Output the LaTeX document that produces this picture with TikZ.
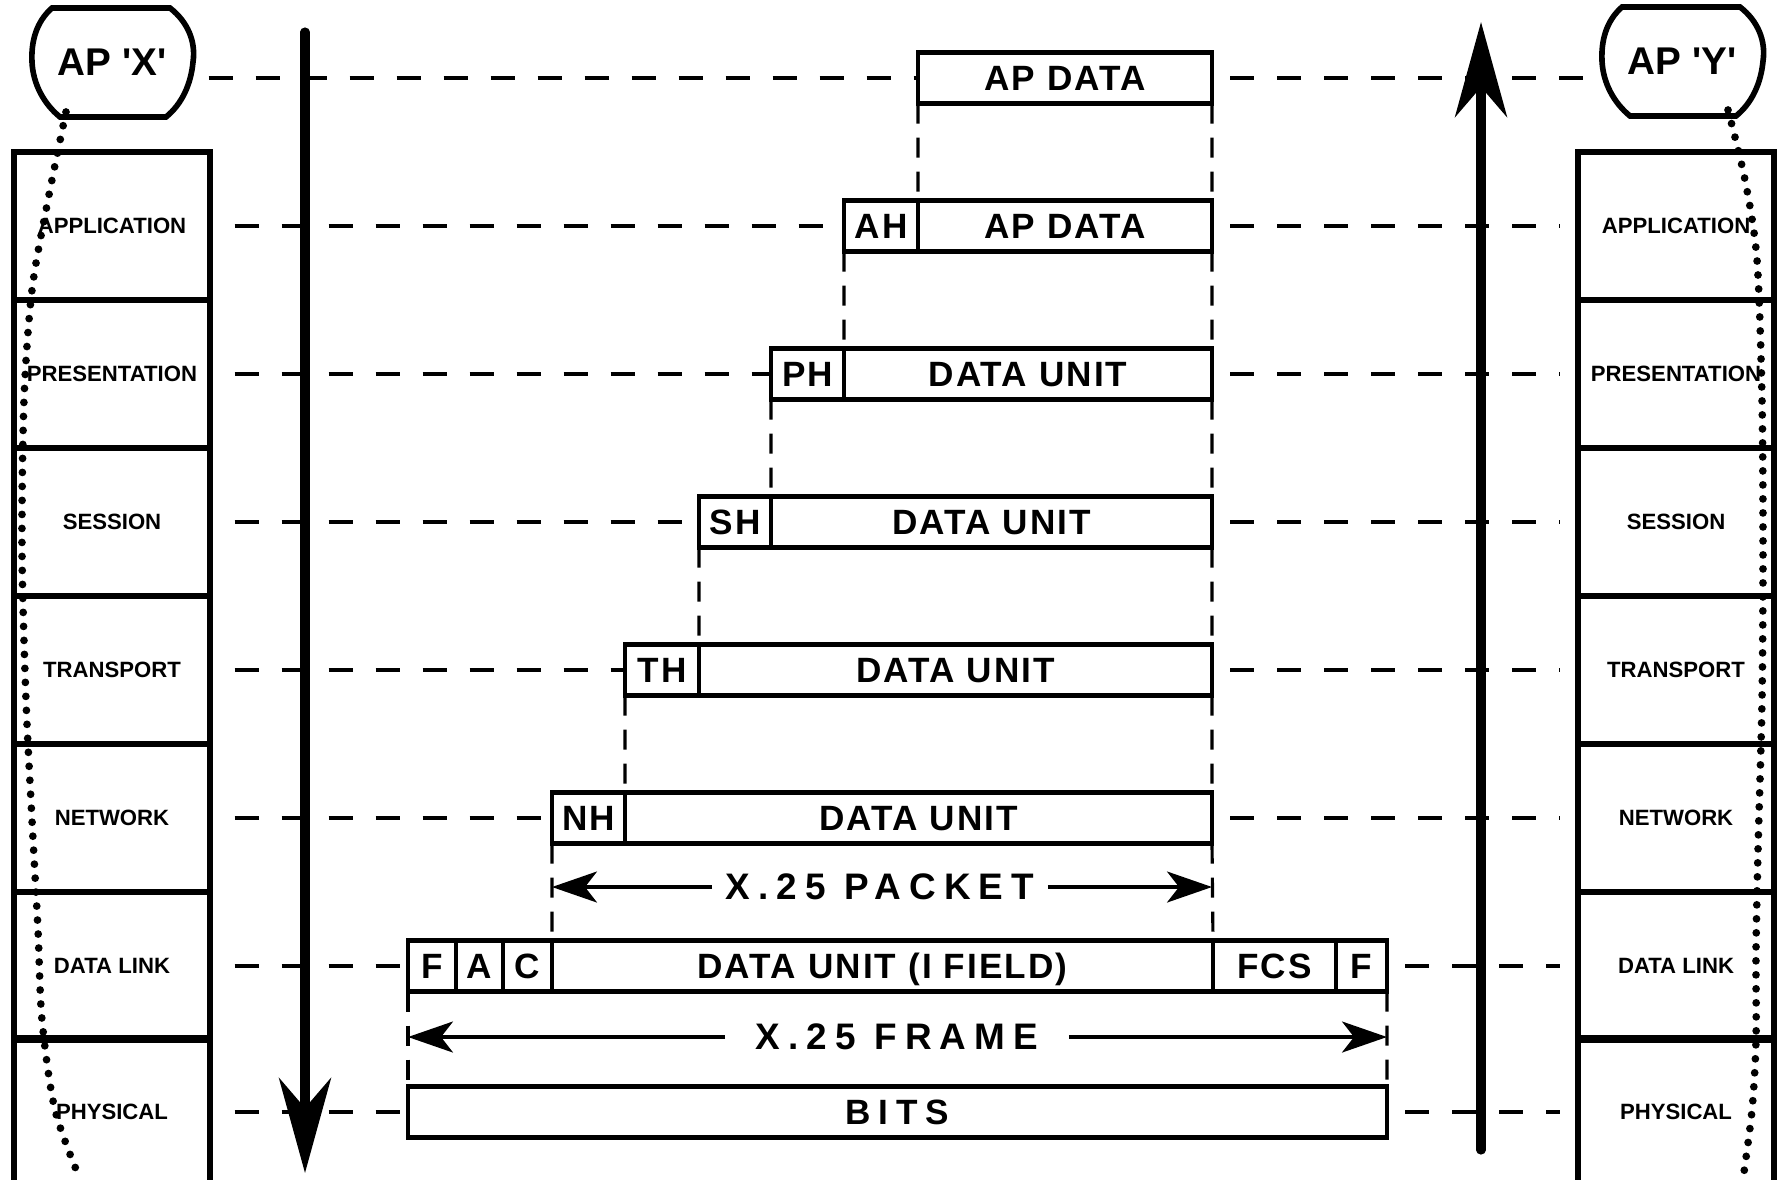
\documentclass[tikz,border=0pt]{standalone}
\usepackage{fontspec}
\setmainfont{Liberation Sans}
\newfontfamily\boxfont[LetterSpace=6]{Liberation Sans}
\newfontfamily\widefont[LetterSpace=22]{Liberation Sans}
\usetikzlibrary{arrows.meta,positioning}

% outline of an application process, around a node centre
\newcommand{\apoutline}[1]{%
  \draw[line width=1.6pt, shift={(#1)}] (-60,-54) -- (58,-54)
    .. controls (76,-40) and (84,-20) .. (81,0)
    .. controls (79,22) and (70,42) .. (54,55) -- (-52,55)
    .. controls (-68,42) and (-79,22) .. (-80,0)
    .. controls (-81,-20) and (-76,-40) .. (-60,-54) -- cycle;}

\begin{document}
\begin{tikzpicture}[x=0.1mm, y=-0.1mm,
    field/.style={draw, line width=1.2pt, minimum height=5.1mm, inner sep=0pt, outer sep=0pt,
      text height=7.2pt, text depth=0pt, font=\boxfont\bfseries\fontsize{10}{12}\selectfont},
    layer/.style={draw, line width=1.5pt, minimum width=19.6mm, minimum height=14.8mm,
      inner sep=0pt, font=\bfseries\fontsize{6.3}{7}\selectfont},
    guide/.style={line width=0.9pt, dash pattern=on 2.4mm off 2.3mm},
    drop/.style={line width=0.9pt, dash pattern=on 2mm off 1.4mm},
    dots/.style={line width=2.2pt, line cap=round, dash pattern=on 0pt off 1.4mm},
    flow/.style={line width=2.6pt, line cap=round, -{Stealth[length=9.5mm, width=5.2mm, inset=3mm]}},
    span/.style={line width=0.9pt, -{Stealth[length=4.5mm, width=3.1mm, inset=1.2mm]}},
    spanlabel/.style={inner ysep=0pt, font=\widefont\bfseries\fontsize{10.5}{12}\selectfont}
  ]
  \useasboundingbox (0,0) rectangle (1786,1179);

  % Layer stacks of both end systems
  \foreach \n/\y/\t in {app/226/APPLICATION, pre/374/PRESENTATION, ses/522/SESSION,
      tra/670/TRANSPORT, net/818/NETWORK, lnk/966/DATA LINK, phy/1112/PHYSICAL}{
    \node[layer] (l\n) at (112,\y) {\t};
    \node[layer] (r\n) at (1676,\y) {\t};
  }

  % Application processes
  \node[minimum width=16.2mm, minimum height=10.9mm, font=\bfseries\fontsize{11}{13}\selectfont]
    (apx) at (112,62) {AP \textquotesingle X\textquotesingle};
  \apoutline{apx.center}
  \node[minimum width=16.2mm, minimum height=10.9mm, font=\bfseries\fontsize{11}{13}\selectfont]
    (apy) at (1682,61) {AP \textquotesingle Y\textquotesingle};
  \apoutline{apy.center}

  % Data units, one row per layer
  \node[field, minimum width=29.4mm, anchor=west] (ap0) at (918,78) {AP DATA};

  \node[field, minimum width=7.4mm, anchor=west] (ah) at (844,226) {AH};
  \node[field, minimum width=29.4mm, right=0mm of ah] (ap1) {AP DATA};

  \node[field, minimum width=7.3mm, anchor=west] (ph) at (771,374) {PH};
  \node[field, minimum width=36.8mm, right=0mm of ph] (du2) {DATA UNIT};

  \node[field, minimum width=7.2mm, anchor=west] (sh) at (699,522) {SH};
  \node[field, minimum width=44.1mm, right=0mm of sh] (du3) {DATA UNIT};

  \node[field, minimum width=7.4mm, anchor=west] (th) at (625,670) {TH};
  \node[field, minimum width=51.3mm, right=0mm of th] (du4) {DATA UNIT};

  \node[field, minimum width=7.3mm, anchor=west] (nh) at (552,818) {NH};
  \node[field, minimum width=58.7mm, right=0mm of nh] (du5) {DATA UNIT};

  % Frame
  \node[field, minimum width=4.8mm, anchor=west] (fl) at (408,966) {F};
  \node[field, minimum width=4.7mm, right=0mm of fl] (fa) {A};
  \node[field, minimum width=4.9mm, right=0mm of fa] (fc) {C};
  \node[field, minimum width=66.1mm, right=0mm of fc] (ifld) {DATA UNIT (I FIELD)};
  \node[field, minimum width=12.3mm, right=0mm of ifld] (fcs) {FCS};
  \node[field, minimum width=5.1mm, right=0mm of fcs] (fr) {F};

  \node[field, minimum width=97.9mm, anchor=west, font=\widefont\bfseries\fontsize{10}{12}\selectfont]
    (bits) at (408,1112) {BITS};

  % Horizontal guides between peers
  \draw[guide, shorten <=1.5mm] (apx.east |- ap0.west) -- (ap0.west);
  \draw[guide, shorten <=1.8mm, shorten >=1.2mm] (ap0.east) -- (apy.west |- ap0.east);
  \foreach \n/\a/\b in {app/ah/ap1, pre/ph/du2, ses/sh/du3, tra/th/du4,
      net/nh/du5, lnk/fl/fr, phy/bits/bits}{
    \draw[guide, shorten <=2.2mm] (l\n.east) -- (\a.west);
    \draw[guide, shorten <=1.8mm, shorten >=1.5mm] (\b.east) -- (r\n.west);
  }

  % Unit edges dropping to the layer below
  \foreach \a/\b in {ap0/ap1, ah/du2, ph/du3, sh/du4, th/du5, nh/ifld, fl/bits}
    \draw[drop] (\a.south west) -- (\b.north west);
  \foreach \a/\b in {ap0/ap1, ap1/du2, du2/du3, du3/du4, du4/du5, du5/ifld, fr/bits}
    \draw[drop] (\a.south east) -- (\b.north east);

  % Packet and frame spans
  \node[spanlabel, inner xsep=1.3mm] (pkt) at (880,887) {X.25 PACKET};
  \draw[span] (pkt.west) -- (pkt.west -| nh.west);
  \draw[span] (pkt.east) -- (pkt.east -| du5.east);
  \node[spanlabel, inner xsep=3mm] (frm) at (897,1037) {X.25 FRAME};
  \draw[span] (frm.west) -- (frm.west -| fl.west);
  \draw[span] (frm.east) -- (frm.east -| fr.east);

  % Down the sending stack, up the receiving one
  \coordinate (downtop) at (305,32);
  \coordinate (downend) at (305,1173);
  \draw[flow] (downtop) -- (downend);
  \coordinate (upbot) at (1481,1150);
  \coordinate (uptop) at (1481,22);
  \draw[flow] (upbot) -- (uptop);

  % Dotted paths from each process through its stack
  \draw[dots] plot[smooth] coordinates {(66,112) (48,200) (32,290) (24,400) (22,550)
    (26,700) (32,820) (38,930) (42,1020) (55,1110) (80,1179)};
  \draw[dots] plot[smooth] coordinates {(1728,110) (1745,180) (1757,260) (1762,400)
    (1763,550) (1762,700) (1758,850) (1756,950) (1756,1040) (1752,1110) (1743,1179)};
\end{tikzpicture}
\end{document}
